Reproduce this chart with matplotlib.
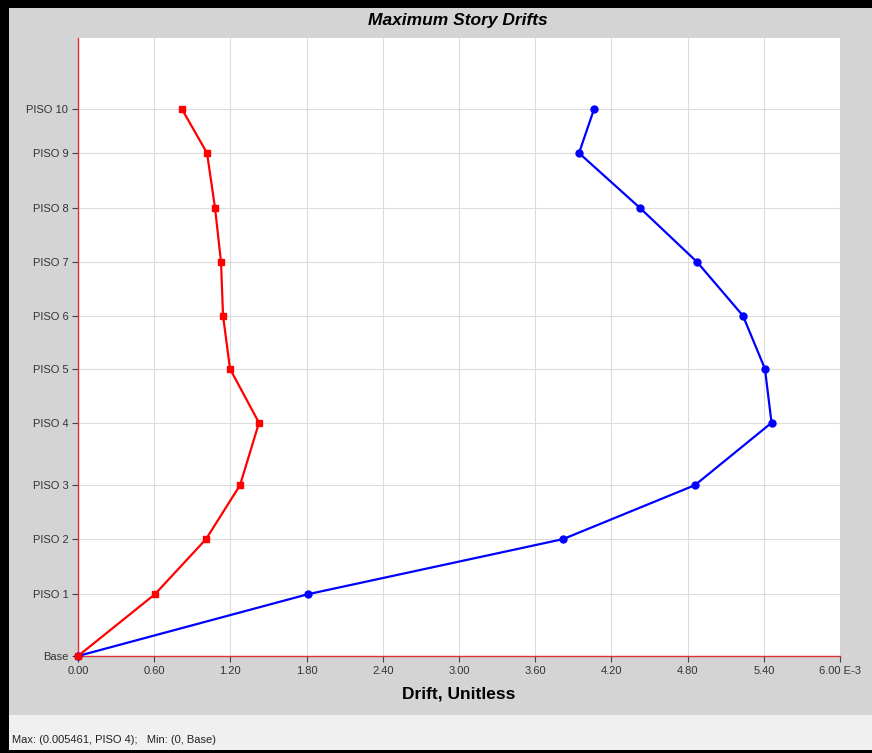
import numpy as np
import matplotlib
matplotlib.use('Agg')
import matplotlib.pyplot as plt
from matplotlib.patches import Rectangle

# story data
stories = ['Base', 'PISO 1', 'PISO 2', 'PISO 3', 'PISO 4', 'PISO 5',
           'PISO 6', 'PISO 7', 'PISO 8', 'PISO 9', 'PISO 10']
elev = [0, 3.4, 6.43, 9.4, 12.83, 15.8, 18.72, 21.68, 24.65, 27.67, 30.08]  # m
drift_x = [0, 0.606, 1.008, 1.276, 1.425, 1.197, 1.142, 1.126, 1.079, 1.016, 0.819]  # E-3
drift_y = [0, 1.811, 3.819, 4.858, 5.461, 5.409, 5.236, 4.874, 4.425, 3.945, 4.063]  # E-3
xticks = np.arange(0, 6.01, 0.6)

W, H = 872, 753
fig = plt.figure(figsize=(W / 100, H / 100), dpi=100)
fig.patch.set_facecolor('#d4d4d4')

# status bar + window frame
fig.patches.append(Rectangle((0, 0), 1, 38 / H, transform=fig.transFigure,
                             facecolor='#f0f0f0', edgecolor='none', zorder=0))
for r in [(0, 0, 9 / W, 1), (0, 1 - 8 / H, 1, 8 / H), (0, 0, 1, 3 / H)]:
    fig.patches.append(Rectangle(r[:2], r[2], r[3], transform=fig.transFigure,
                                 facecolor='black', edgecolor='none', zorder=1))

ax = fig.add_axes([78 / W, 1 - 656 / H, (840 - 78) / W, (656 - 38) / H])
ax.set_facecolor('white')

ax.plot(drift_y, elev, color='blue', lw=1.6, marker='o', ms=5, clip_on=False, zorder=3)
ax.plot(drift_x, elev, color='red', lw=1.6, marker='s', ms=5, clip_on=False, zorder=4)

ax.set_xlim(0, 6.0)
ax.set_ylim(0, 34)
ax.set_xticks(xticks)
xl = ['%.2f' % v for v in xticks]
xl[-1] = '6.00 E-3'
ax.set_xticklabels(xl, fontsize=8, color='#333333', family='Liberation Sans')
ax.set_yticks(elev)
ax.set_yticklabels(stories, fontsize=8, color='#333333', family='Liberation Sans')
ax.grid(True, color='#dcdcdc', lw=0.8)
ax.set_axisbelow(True)
ax.tick_params(length=4, width=0.8, color='#444444', pad=3)

for s in ['top', 'right']:
    ax.spines[s].set_visible(False)
for s in ['left', 'bottom']:
    ax.spines[s].set_color('#e03030')
    ax.spines[s].set_linewidth(1.0)

ax.set_xlabel('Drift, Unitless', fontsize=12.5, fontweight='bold',
              family='Liberation Sans', labelpad=8)

fig.text(458 / W, 1 - 20 / H, 'Maximum Story Drifts', ha='center', va='center',
         fontsize=12.5, fontweight='bold', fontstyle='italic',
         family='Liberation Sans')
fig.text(12 / W, 1 - 740 / H, 'Max: (0.005461, PISO 4);   Min: (0, Base)',
         ha='left', va='center', fontsize=8, color='#222222',
         family='Liberation Sans')

fig.savefig('out.png', dpi=100, facecolor=fig.get_facecolor())
